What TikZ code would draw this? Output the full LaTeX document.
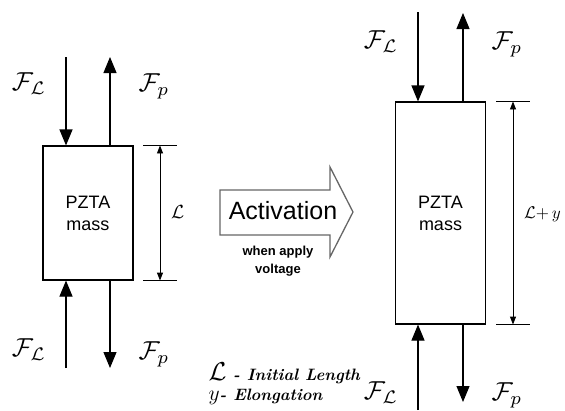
\documentclass[tikz,border=0pt]{standalone}
\usepackage{amsmath}
\usepackage{fontspec}
\setsansfont{Liberation Sans}
\usepackage{tikz}
\usetikzlibrary{positioning,calc,arrows.meta}

\newcommand{\bigsym}[2][2.6]{\scalebox{#1}{$#2$}}

\tikzset{
	force/.style={-{Triangle[length=16pt,width=13pt]}, line width=1.1pt},
	dimline/.style={{Triangle[length=8pt,width=6pt]}-{Triangle[length=8pt,width=6pt]}, line width=0.9pt},
	tick/.style={line width=1.1pt},
	massbox/.style={draw, line width=1.1pt, minimum width=90pt, align=center,
		font=\sffamily\fontsize{18}{22}\selectfont},
	keytext/.style={anchor=west, font=\bfseries\itshape\fontsize{16.5}{20}\selectfont},
}

\begin{document}
\begin{tikzpicture}[x=1pt,y=-1pt]
		\useasboundingbox (0,0) rectangle (565,410);
		
		% before activation
		\node[massbox, minimum height=134pt] (m0) at (88,213) {PZTA\\mass};
		\coordinate (a0) at (66,57);
		\coordinate (b0) at (110,57);
		\coordinate (c0) at (66,368);
		\coordinate (d0) at (110,368);
		\draw[force] (a0) -- (a0 |- m0.north);
		\draw[force] (b0 |- m0.north) -- (b0);
		\draw[force] (c0) -- (c0 |- m0.south);
		\draw[force] (d0 |- m0.south) -- (d0);
		
		\node (fl0) at (29,84) {\bigsym{\mathcal{F}_{\mathcal{L}}}};
		\node (fp0) at (154,86) {\bigsym{\mathcal{F}_{p}}};
		\node (fl1) at (29,350) {\bigsym{\mathcal{F}_{\mathcal{L}}}};
		\node (fp1) at (154,354) {\bigsym{\mathcal{F}_{p}}};
		
		\coordinate (t0) at (143,0 |- m0.north);
		\coordinate (t1) at (143,0 |- m0.south);
		\draw[tick] (t0) --++(34,0);
		\draw[tick] (t1) --++(34,0);
		\draw[dimline] ($(t0)+(17,0)$) -- ($(t1)+(17,0)$);
		\node[anchor=west, inner sep=1pt] (len0) at (170,212) {\bigsym[1.9]{\mathcal{L}}};
		
		% activation arrow
		\draw[gray!80!black, line width=1.3pt, line join=miter]
			(220,190) -- (330,190) -- (330,167) -- (353,212) -- (330,257) -- (330,235) -- (220,235) -- cycle;
		\node[font=\sffamily\fontsize{25}{28}\selectfont] (act) at (283,211) {Activation};
		\node[font=\sffamily\bfseries\fontsize{13}{18}\selectfont, align=center] (volt) at (278,261) {when apply\\voltage};
		
		% after activation
		\node[massbox, minimum height=222pt] (m1) at (440.5,213) {PZTA\\mass};
		\coordinate (a1) at (418,12);
		\coordinate (b1) at (463,13);
		\coordinate (c1) at (418,410);
		\coordinate (d1) at (463,402);
		\draw[force] (a1) -- (a1 |- m1.north);
		\draw[force] (b1 |- m1.north) -- (b1);
		\draw[force] (c1) -- (c1 |- m1.south);
		\draw[force] (d1 |- m1.south) -- (d1);
		
		\node (fl2) at (381,42) {\bigsym{\mathcal{F}_{\mathcal{L}}}};
		\node (fp2) at (507,44) {\bigsym{\mathcal{F}_{p}}};
		\node (fl3) at (381,393) {\bigsym{\mathcal{F}_{\mathcal{L}}}};
		\node (fp3) at (507,395) {\bigsym{\mathcal{F}_{p}}};
		
		\coordinate (t2) at (496,0 |- m1.north);
		\coordinate (t3) at (496,0 |- m1.south);
		\draw[tick] (t2) --++(34,0);
		\draw[tick] (t3) --++(34,0);
		\draw[dimline] ($(t2)+(17,0)$) -- ($(t3)+(17,0)$);
		\node[anchor=west, inner sep=0pt] (len1) at (524,214) {\bigsym[1.7]{\mathcal{L}{+}\,y}};
		
		% legend
		\node[keytext] (key0) at (205,373) {\bigsym[1.5]{\mathcal{L}} - Initial Length};
		\node[keytext] (key1) at (205,397) {\bigsym[1.25]{y}- Elongation};
	\end{tikzpicture}
\end{document}
